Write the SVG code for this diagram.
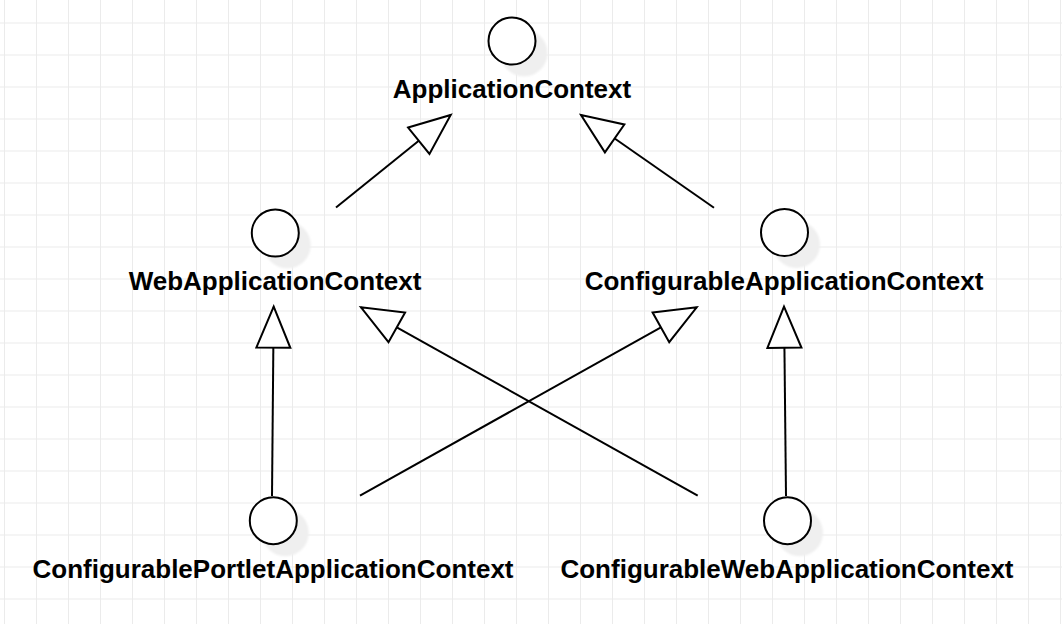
<svg xmlns="http://www.w3.org/2000/svg" width="1062" height="624" viewBox="0 0 1062 624">
  <defs>
    <pattern id="grid" x="4" y="22.5" width="32" height="32" patternUnits="userSpaceOnUse">
      <path d="M0.5,0 V32 M0,0.5 H32" fill="none" stroke="#ebebeb" stroke-width="1"/>
    </pattern>
    <marker id="hollow" viewBox="-3 -20 47 40" refX="41" refY="0" markerWidth="47" markerHeight="40" markerUnits="userSpaceOnUse" orient="auto">
      <path d="M0,-17 L41,0 L0,17 Z" fill="#ffffff" stroke="#000000" stroke-width="2" stroke-linejoin="miter"/>
    </marker>
    <filter id="soft" x="-50%" y="-50%" width="200%" height="200%">
      <feGaussianBlur stdDeviation="0.8"/>
    </filter>
  </defs>
  <style>
    .shadow { fill: #efefef; filter: url(#soft); }
    .node { fill: #ffffff; stroke: #000000; stroke-width: 2; }
    .label { font-family: "Liberation Sans", Arial, sans-serif; font-weight: bold; font-size: 26px; fill: #000000; text-anchor: middle; }
    .edge { stroke: #000000; stroke-width: 2; fill: none; marker-end: url(#hollow); }
  </style>
  <rect width="1062" height="624" fill="#ffffff"/>
  <rect width="1062" height="624" fill="url(#grid)"/>

  <g id="connectors">
    <line class="edge" x1="336" y1="207.5" x2="450.7" y2="115"/>
    <line class="edge" x1="714" y1="207.7" x2="581" y2="115"/>
    <line class="edge" x1="272" y1="496" x2="273.7" y2="306.7"/>
    <line class="edge" x1="786" y1="496" x2="784" y2="306.7"/>
    <line class="edge" x1="360" y1="495.7" x2="696.7" y2="307.3"/>
    <line class="edge" x1="697.7" y1="495.7" x2="361" y2="307.3"/>
  </g>

  <g id="ApplicationContext">
    <circle class="shadow" cx="524" cy="53" r="23.5"/>
    <circle class="node" cx="512" cy="41" r="23.5"/>
    <text class="label" x="512" y="98">ApplicationContext</text>
  </g>

  <g id="WebApplicationContext">
    <circle class="shadow" cx="287.3" cy="245" r="23.5"/>
    <circle class="node" cx="275.3" cy="233" r="23.5"/>
    <text class="label" x="275" y="290">WebApplicationContext</text>
  </g>

  <g id="ConfigurableApplicationContext">
    <circle class="shadow" cx="796.5" cy="244.5" r="23.5"/>
    <circle class="node" cx="784.5" cy="232.5" r="23.5"/>
    <text class="label" x="784" y="290">ConfigurableApplicationContext</text>
  </g>

  <g id="ConfigurablePortletApplicationContext">
    <circle class="shadow" cx="285.3" cy="532.7" r="23.5"/>
    <circle class="node" cx="273.3" cy="520.7" r="23.5"/>
    <text class="label" x="273" y="578">ConfigurablePortletApplicationContext</text>
  </g>

  <g id="ConfigurableWebApplicationContext">
    <circle class="shadow" cx="799.5" cy="532.7" r="23.5"/>
    <circle class="node" cx="787.5" cy="520.7" r="23.5"/>
    <text class="label" x="787" y="578">ConfigurableWebApplicationContext</text>
  </g>
</svg>
